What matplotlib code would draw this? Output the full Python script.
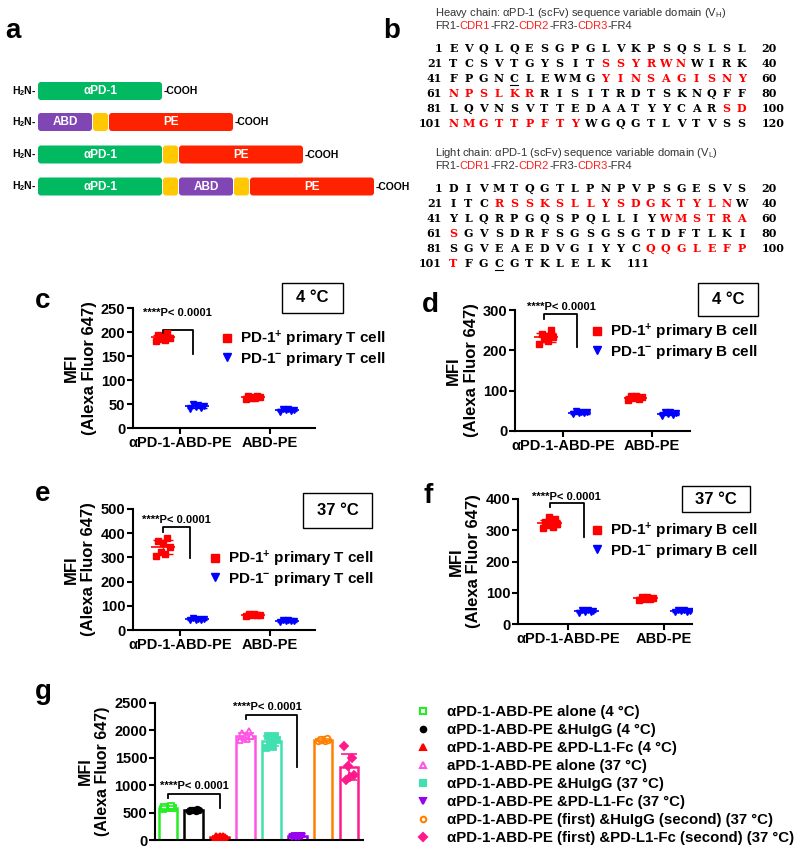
import numpy as np
import matplotlib
matplotlib.use("Agg")
import matplotlib.pyplot as plt
from matplotlib.patches import FancyBboxPatch, Rectangle
from matplotlib.lines import Line2D

plt.rcParams['font.family'] = ['Liberation Sans', 'DejaVu Sans']
plt.rcParams['font.weight'] = 'bold'
plt.rcParams['axes.labelweight'] = 'bold'
plt.rcParams['mathtext.fontset'] = 'custom'
plt.rcParams['mathtext.rm'] = 'Liberation Sans'
plt.rcParams['mathtext.bf'] = 'Liberation Sans:bold'
plt.rcParams['mathtext.it'] = 'Liberation Sans:italic'

# panel a: fusion constructs (N -> C)
constructs = [["αPD-1"],
              ["ABD", "linker", "PE"],
              ["αPD-1", "linker", "PE"],
              ["αPD-1", "linker", "ABD", "linker", "PE"]]

# panel b: scFv sequences
heavy_seq = ["EVQLQESGPGLVKPSQSLSL", "TCSVTGYSITSSYRWNWIRK", "FPGNCLEWMGYINSAGISNY",
             "NPSLKRRISITRDTSKNQFF", "LQVNSVTTEDAATYYCARSD", "NMGTTPFTYWGQGTLVTVSS"]
heavy_cdr = [(31, 36), (51, 66), (99, 109)]
heavy_cys = [45]
light_seq = ["DIVMTQGTLPNPVPSGESVS", "ITCRSSKSLLYSDGKTYLNW", "YLQRPGQSPQLLIYWMSTRA",
             "SGVSDRFSGSGSGTDFTLKI", "SGVEAEDVGIYYCQQGLEFP", "TFGCGTKLELK"]
light_cdr = [(24, 39), (55, 61), (94, 101)]
light_cys = [104]

# panels c-f: MFI per cell (PD-1+ / PD-1-) for each protein
groups = ["αPD-1-ABD-PE", "ABD-PE"]
c_pos = [[182, 184, 186, 188, 190, 193, 198], [61, 62, 63, 64, 65, 66, 67]]
c_neg = [[40, 42, 44, 45, 47, 51], [34, 36, 37, 38, 39, 40]]
d_pos = [[215, 222, 228, 232, 236, 240, 250], [78, 80, 82, 84, 86, 88]]
d_neg = [[42, 44, 45, 46, 48, 50], [38, 40, 42, 44, 46, 48]]
e_pos = [[305, 312, 322, 345, 358, 368, 380], [58, 60, 62, 64, 66, 68]]
e_neg = [[40, 42, 43, 45, 46, 48], [34, 36, 37, 39, 40, 42]]
f_pos = [[308, 312, 316, 320, 322, 326, 335, 342], [77, 79, 81, 83, 85, 88]]
f_neg = [[36, 38, 40, 42, 44, 46], [38, 40, 42, 43, 44, 46]]

# panel g: competition binding
g_labels = ["αPD-1-ABD-PE alone (4 °C)",
            "αPD-1-ABD-PE &HuIgG (4 °C)",
            "αPD-1-ABD-PE &PD-L1-Fc (4 °C)",
            "aPD-1-ABD-PE alone (37 °C)",
            "αPD-1-ABD-PE &HuIgG (37 °C)",
            "αPD-1-ABD-PE &PD-L1-Fc (37 °C)",
            "αPD-1-ABD-PE (first) &HuIgG (second) (37 °C)",
            "αPD-1-ABD-PE (first) &PD-L1-Fc (second) (37 °C)"]
g_values = [[565, 575, 585, 590, 600, 610, 620],
            [530, 535, 540, 545, 550, 555, 560],
            [45, 50, 55, 60, 65, 70, 75],
            [1830, 1850, 1880, 1900, 1920, 1950, 1990],
            [1680, 1700, 1790, 1820, 1850, 1890, 1900],
            [55, 60, 62, 65, 68, 70, 75],
            [1800, 1810, 1820, 1830, 1840, 1850, 1860],
            [1710, 1500, 1350, 1180, 1150, 1100]]

g_colors = ['#22ee22', '#000000', '#ff0000', '#ff55e6', '#40e0b0', '#9900ee', '#ff8000', '#ff1a8c']
g_markers = ['s', 'o', '^', '^', 's', 'v', 'o', 'D']
g_open = [True, False, False, True, False, False, True, False]

W, H = 800, 851
fig = plt.figure(figsize=(8, 8.51), dpi=100)
ov = fig.add_axes([0, 0, 1, 1])
ov.set_xlim(0, W)
ov.set_ylim(H, 0)
ov.axis('off')


def px_axes(x0, y0, x1, y1):
    a = fig.add_axes([x0 / W, 1 - y1 / H, (x1 - x0) / W, (y1 - y0) / H])
    a.set_facecolor('none')
    return a


# panel letters
for lab, x, y in [('a', 5, 38), ('b', 383, 38), ('c', 35, 308), ('d', 422, 312),
                  ('e', 35, 501), ('f', 423, 503), ('g', 35, 699)]:
    ov.text(x, y, lab, fontsize=20, va='baseline', ha='left')

# ---- a
dom_w = {"αPD-1": 124, "ABD": 54, "linker": 15, "PE": 124}
dom_c = {"αPD-1": "#00b960", "ABD": "#8046b4", "linker": "#ffc800", "PE": "#ff2200"}
row_y = [91, 122, 154.5, 186.5]
for parts, yc in zip(constructs, row_y):
    x = 38
    ov.text(36, yc, 'H$_\\mathbf{2}$N-', fontsize=7.5, ha='right', va='center')
    for p in parts:
        w = dom_w[p]
        ov.add_patch(FancyBboxPatch((x, yc - 9), w, 18, boxstyle="round,pad=0,rounding_size=3",
                                    fc=dom_c[p], ec='none'))
        if p != "linker":
            ov.text(x + w / 2, yc, p, color='white', fontsize=8.5, ha='center', va='center')
        x += w + 1
    ov.text(x + 1, yc, '-COOH', fontsize=7.5, ha='left', va='center')


# ---- b
def seq_block(rows, cdr, cys, y_title, title, y0, last_x):
    ov.text(435, y_title, title, fontsize=8, fontweight='normal', color='#333333', va='center')
    t = ov.text(435, y_title + 13, 'FR1-', fontsize=8, fontweight='normal', color='#333333', va='center')
    for seg in ['CDR1', '-FR2-', 'CDR2', '-FR3-', 'CDR3', '-FR4']:
        col = '#ff2020' if seg.startswith('CDR') else '#333333'
        t = ov.annotate(seg, xy=(1, 0), xycoords=t, va='bottom', ha='left', fontsize=8,
                        fontweight='normal', color=col)
    for r, row in enumerate(rows):
        y = y0 + r * 14.95
        start = r * 20 + 1
        ov.text(442, y, str(start), ha='right', va='center', fontsize=8, family='DejaVu Serif')
        for k, aa in enumerate(row):
            idx = start + k
            col = 'red' if any(a <= idx <= b for a, b in cdr) else 'black'
            x = 453.3 + k * 15.18
            ov.text(x, y, aa, ha='center', va='center', color=col, fontsize=8, family='DejaVu Serif')
            if idx in cys:
                ov.plot([x - 4, x + 4], [y + 6.5, y + 6.5], color='k', lw=0.8)
        end = start + len(row) - 1
        ex = 761.7 if len(row) == 20 else last_x
        ov.text(ex, y, str(end), ha='left', va='center', fontsize=8, family='DejaVu Serif')


seq_block(heavy_seq, heavy_cdr, heavy_cys, 13,
          'Heavy chain: αPD-1 (scFv) sequence variable domain (V$_\\mathregular{H}$)', 48.3, 761.7)
seq_block(light_seq, light_cdr, light_cys, 153,
          'Light chain: αPD-1 (scFv) sequence variable domain (V$_\\mathregular{L}$)', 188.3, 627)


# ---- c-f
def spread(vals, w):
    # horizontal scatter of the dots, mixed order so they form a compact cloud
    n = len(vals)
    frac = (np.arange(n) * 0.618) % 1
    rank = np.argsort(np.argsort(frac))
    return np.linspace(-w, w, n)[rank]


def style(ax, ymax, step):
    for s in ['top', 'right']:
        ax.spines[s].set_visible(False)
    for s in ['left', 'bottom']:
        ax.spines[s].set_linewidth(1.5)
    ax.set_ylim(0, ymax)
    ax.set_yticks(np.arange(0, ymax + 1, step))
    ax.tick_params(width=1.5, length=4, labelsize=10.5, pad=1.5)


def bracket(ax, x0, x1, ytop, yl, yr, tx, ty):
    ax.plot([x0, x0, x1, x1], [yl, ytop, ytop, yr], color='k', lw=1.3, clip_on=False)
    ax.text(tx, ty, '****P< 0.0001', fontsize=8, ha='left', va='center', clip_on=False)


panels = [
    # pos, neg, rect, xlim, ymax, step, cell, bracket, legend anchor, box
    (c_pos, c_neg, (133, 308, 315, 428), (-0.522, 1.5), 250, 50, 'T',
     (-0.19, 0.14, 205, 196, 155, -0.41, 240), (221, 329), (282, 283, 343, 313, '4 °C')),
    (d_pos, d_neg, (515, 310, 690, 431), (-0.539, 1.427), 300, 100, 'B',
     (-0.21, 0.16, 290, 278, 208, -0.40, 308), (591, 322), (698, 283, 758, 316, '4 °C')),
    (e_pos, e_neg, (133, 509, 315, 630), (-0.522, 1.5), 500, 100, 'T',
     (-0.19, 0.11, 425, 405, 297, -0.42, 455), (209, 549), (303, 493, 372, 528, '37 °C')),
    (f_pos, f_neg, (518, 499, 692, 624), (-0.52, 1.29), 400, 100, 'B',
     (-0.19, 0.17, 387, 374, 278, -0.375, 406), (591, 521), (682, 486, 750, 512, '37 °C')),
]

for pos, neg, rect, xl, ymax, step, cell, br, lg, box in panels:
    ax = px_axes(*rect)
    style(ax, ymax, step)
    ax.set_xlim(*xl)
    ax.set_xticks(range(len(groups)))
    ax.set_xticklabels(groups)
    for vals_list, col, mk, dx in [(pos, '#ff0000', 's', -0.19), (neg, '#0000ff', 'v', 0.19)]:
        for i, vals in enumerate(vals_list):
            v = np.asarray(vals, float)
            x = i + dx
            ax.plot(x + spread(v, 0.075), v, ls='none', marker=mk, color=col, ms=4.5, zorder=3)
            m, sd = v.mean(), v.std(ddof=1)
            ax.hlines(m, x - 0.13, x + 0.13, color=col, lw=1.2, zorder=4)
            ax.errorbar(x, m, yerr=sd, fmt='none', ecolor=col, capsize=7, elinewidth=1, capthick=1, zorder=4)
    ax.set_ylabel('MFI\n(Alexa Fluor 647)', fontsize=12, labelpad=3)
    bracket(ax, *br)
    handles = [Line2D([], [], ls='none', marker='s', color='#ff0000', ms=6),
               Line2D([], [], ls='none', marker='v', color='#0000ff', ms=6)]
    labels = ['PD-1$^{\\mathbf{+}}$ primary %s cell' % cell, 'PD-1$^{\\mathbf{-}}$ primary %s cell' % cell]
    ax.legend(handles, labels, loc='upper left', bbox_to_anchor=lg, bbox_transform=ov.transData,
              frameon=False, fontsize=11, handlelength=0.8, handletextpad=0.45,
              labelspacing=0.03, borderpad=0, borderaxespad=0)
    bx0, by0, bx1, by1, btxt = box
    ov.add_patch(Rectangle((bx0, by0), bx1 - bx0, by1 - by0, fc='white', ec='black', lw=1))
    ov.text((bx0 + bx1) / 2, (by0 + by1) / 2, btxt, fontsize=12, ha='center', va='center')

# ---- g
ax = px_axes(155, 703, 363, 840)
style(ax, 2500, 500)
ax.set_xlim(-0.5, 7.54)
ax.set_xticks([])
xs = np.arange(len(g_values))
for i, (vals, col, mk, op) in enumerate(zip(g_values, g_colors, g_markers, g_open)):
    v = np.asarray(vals, float)
    m, sd = v.mean(), v.std(ddof=1)
    ax.bar(xs[i], m, width=0.72, fc='white', ec=col, lw=1.8, zorder=2)
    ax.plot(xs[i] + spread(v, 0.2), v, ls='none', marker=mk, ms=4, mec=col,
            mfc='white' if op else col, mew=1.3, zorder=3)
    ax.errorbar(xs[i], m, yerr=sd, fmt='none', ecolor=col, capsize=6, elinewidth=1.2, capthick=1.2, zorder=4)
ax.set_ylabel('MFI\n(Alexa Fluor 647)', fontsize=11.5, labelpad=3)
bracket(ax, 0, 2, 840, 767, 584, -0.31, 985)
bracket(ax, 3, 5, 2281, 2208, 1332, 2.51, 2427)
handles = [Line2D([], [], ls='none', marker=mk, ms=4, mec=col, mfc='white' if op else col, mew=1.5)
           for col, mk, op in zip(g_colors, g_markers, g_open)]
ax.legend(handles, g_labels, loc='upper left', bbox_to_anchor=(417, 705), bbox_transform=ov.transData,
          frameon=False, fontsize=10.8, handlelength=0.8, handletextpad=1.2,
          labelspacing=0.27, borderpad=0, borderaxespad=0)

fig.savefig('out.png', dpi=100)
